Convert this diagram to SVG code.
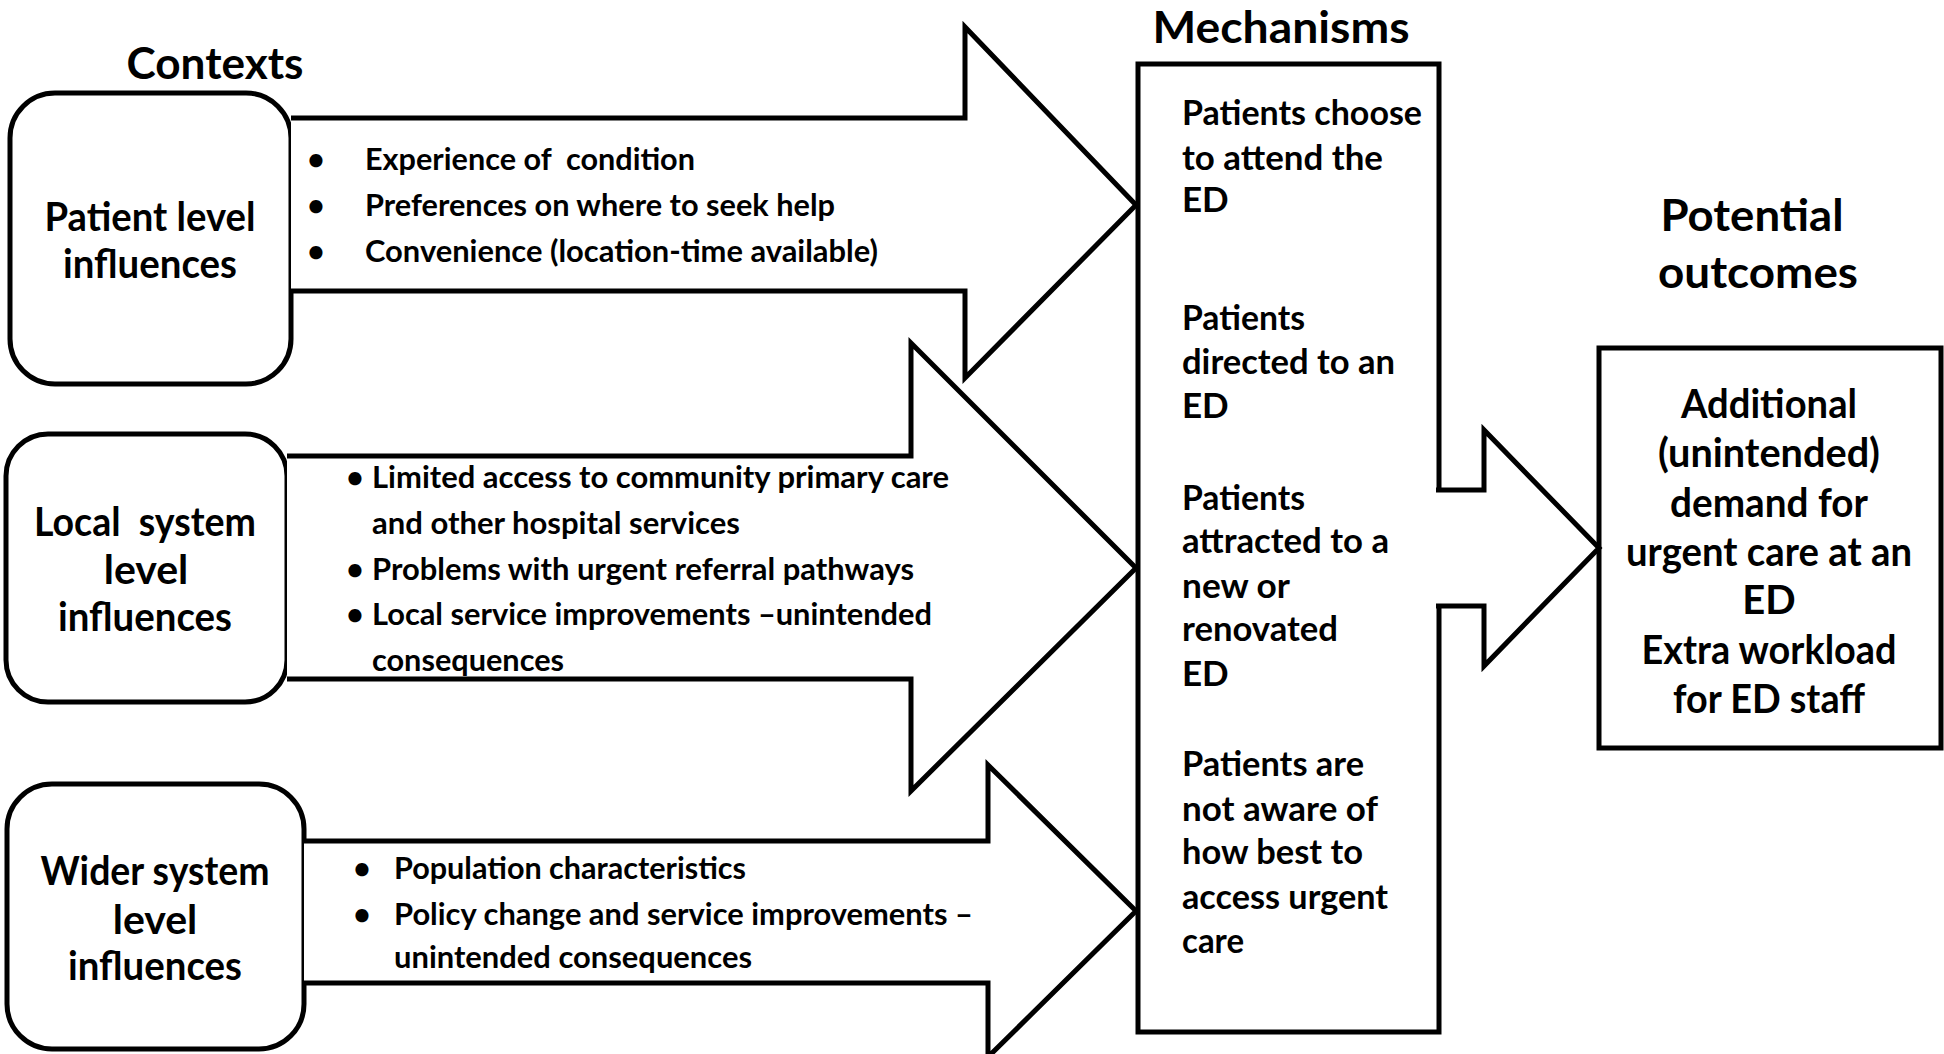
<svg xmlns="http://www.w3.org/2000/svg" width="1944" height="1054" viewBox="0 0 1944 1054">
<style>
text{font-family:Lato,"Open Sans","Liberation Sans",sans-serif;font-weight:bold;fill:#000}
.title{font-size:44px;text-anchor:middle}
.lbl{font-size:41px;text-anchor:middle}
.out{font-size:40px;text-anchor:middle}
.mech{font-size:35px}
.bul{font-size:30px}
.box{fill:#fff;stroke:#000;stroke-width:5}
.arrow{fill:#fff;stroke:#000;stroke-width:5;stroke-linejoin:miter}
.pre{white-space:pre}
</style>
<rect width="1944" height="1054" fill="#fff"/>
<g id="titles">
<text class="title" x="215" y="79" textLength="177" lengthAdjust="spacingAndGlyphs">Contexts</text>
<text class="title" x="1281" y="43" style="font-size:43px" textLength="257" lengthAdjust="spacingAndGlyphs">Mechanisms</text>
<text class="title" x="1752" y="231" textLength="183" lengthAdjust="spacingAndGlyphs">Potential</text>
<text class="title" x="1758" y="288" textLength="200" lengthAdjust="spacingAndGlyphs">outcomes</text>
</g>
<g id="nodes">
<g id="patient-level">
<rect class="box" x="10" y="93" width="281" height="291" rx="45"/>
<text class="lbl" x="150" y="231" textLength="211" lengthAdjust="spacingAndGlyphs">Patient level</text>
<text class="lbl" x="150" y="278" textLength="174" lengthAdjust="spacingAndGlyphs">influences</text>
</g>
<g id="local-system-level">
<rect class="box" x="6" y="434" width="281" height="268" rx="42"/>
<text class="lbl pre" x="145" y="536" textLength="222" lengthAdjust="spacingAndGlyphs">Local  system</text>
<text class="lbl" x="146" y="584">level</text>
<text class="lbl" x="145" y="631" textLength="174" lengthAdjust="spacingAndGlyphs">influences</text>
</g>
<g id="wider-system-level">
<rect class="box" x="7" y="784" width="297" height="265" rx="45"/>
<text class="lbl" x="155" y="885" textLength="229" lengthAdjust="spacingAndGlyphs">Wider system</text>
<text class="lbl" x="155" y="934">level</text>
<text class="lbl" x="155" y="980" textLength="174" lengthAdjust="spacingAndGlyphs">influences</text>
</g>
<g id="mechanisms">
<rect class="box" x="1138" y="64" width="301" height="968"/>
<text class="mech" x="1182" y="125" textLength="240" lengthAdjust="spacingAndGlyphs">Patients choose</text>
<text class="mech" x="1182" y="170" textLength="201" lengthAdjust="spacingAndGlyphs">to attend the</text>
<text class="mech" x="1182" y="212">ED</text>
<text class="mech" x="1182" y="330" textLength="123" lengthAdjust="spacingAndGlyphs">Patients</text>
<text class="mech" x="1182" y="374" textLength="213" lengthAdjust="spacingAndGlyphs">directed to an</text>
<text class="mech" x="1182" y="418">ED</text>
<text class="mech" x="1182" y="510" textLength="123" lengthAdjust="spacingAndGlyphs">Patients</text>
<text class="mech" x="1182" y="553" textLength="207" lengthAdjust="spacingAndGlyphs">attracted to a</text>
<text class="mech" x="1182" y="598" textLength="108" lengthAdjust="spacingAndGlyphs">new or</text>
<text class="mech" x="1182" y="641" textLength="156" lengthAdjust="spacingAndGlyphs">renovated</text>
<text class="mech" x="1182" y="686">ED</text>
<text class="mech" x="1182" y="776" textLength="182" lengthAdjust="spacingAndGlyphs">Patients are</text>
<text class="mech" x="1182" y="821" textLength="196" lengthAdjust="spacingAndGlyphs">not aware of</text>
<text class="mech" x="1182" y="864" textLength="181" lengthAdjust="spacingAndGlyphs">how best to</text>
<text class="mech" x="1182" y="909" textLength="206" lengthAdjust="spacingAndGlyphs">access urgent</text>
<text class="mech" x="1182" y="953" textLength="62" lengthAdjust="spacingAndGlyphs">care</text>
</g>
<g id="outcomes">
<rect class="box" x="1599" y="348" width="342" height="400"/>
<text class="out" x="1769" y="418" textLength="176" lengthAdjust="spacingAndGlyphs">Additional</text>
<text class="out" x="1769" y="467" textLength="222" lengthAdjust="spacingAndGlyphs">(unintended)</text>
<text class="out" x="1769" y="517" textLength="198" lengthAdjust="spacingAndGlyphs">demand for</text>
<text class="out" x="1769" y="566" textLength="286" lengthAdjust="spacingAndGlyphs">urgent care at an</text>
<text class="out" x="1769" y="614">ED</text>
<text class="out" x="1769" y="664" textLength="255" lengthAdjust="spacingAndGlyphs">Extra workload</text>
<text class="out" x="1769" y="713" textLength="192" lengthAdjust="spacingAndGlyphs">for ED staff</text>
</g>
</g>
<g id="connectors">
<g id="arrow-patient">
<polyline class="arrow" points="291,118 965,118 965,27 1136,205 965,378 965,291 291,291"/>
<text class="bul" x="316" y="170" text-anchor="middle">•</text>
<text class="bul" x="316" y="216" text-anchor="middle">•</text>
<text class="bul" x="316" y="262" text-anchor="middle">•</text>
<text class="bul pre" x="365" y="170" textLength="330" lengthAdjust="spacingAndGlyphs">Experience of  condition</text>
<text class="bul" x="365" y="216" textLength="470" lengthAdjust="spacingAndGlyphs">Preferences on where to seek help</text>
<text class="bul" x="365" y="262" textLength="513" lengthAdjust="spacingAndGlyphs">Convenience (location-time available)</text>
</g>
<g id="arrow-local">
<polyline class="arrow" points="287,456 911,456 911,343 1136,568 911,791 911,679 287,679"/>
<text class="bul" x="355" y="488" text-anchor="middle">•</text>
<text class="bul" x="355" y="580" text-anchor="middle">•</text>
<text class="bul" x="355" y="625" text-anchor="middle">•</text>
<text class="bul" x="372" y="488" textLength="577" lengthAdjust="spacingAndGlyphs">Limited access to community primary care</text>
<text class="bul" x="372" y="534" textLength="368" lengthAdjust="spacingAndGlyphs">and other hospital services</text>
<text class="bul" x="372" y="580" textLength="542" lengthAdjust="spacingAndGlyphs">Problems with urgent referral pathways</text>
<text class="bul" x="372" y="625" textLength="560" lengthAdjust="spacingAndGlyphs">Local service improvements –unintended</text>
<text class="bul" x="372" y="671" textLength="192" lengthAdjust="spacingAndGlyphs">consequences</text>
</g>
<g id="arrow-wider">
<polyline class="arrow" points="304,841 988,841 988,765 1136,911 988,1057 988,983 304,983"/>
<text class="bul" x="362" y="879" text-anchor="middle">•</text>
<text class="bul" x="362" y="925" text-anchor="middle">•</text>
<text class="bul" x="394" y="879" textLength="352" lengthAdjust="spacingAndGlyphs">Population characteristics</text>
<text class="bul" x="394" y="925" textLength="579" lengthAdjust="spacingAndGlyphs">Policy change and service improvements –</text>
<text class="bul" x="394" y="968" textLength="358" lengthAdjust="spacingAndGlyphs">unintended consequences</text>
</g>
<g id="arrow-outcome">
<polyline class="arrow" points="1436,490 1484,490 1484,430 1599,548 1484,666 1484,606 1436,606"/>
</g>
</g>
</svg>
